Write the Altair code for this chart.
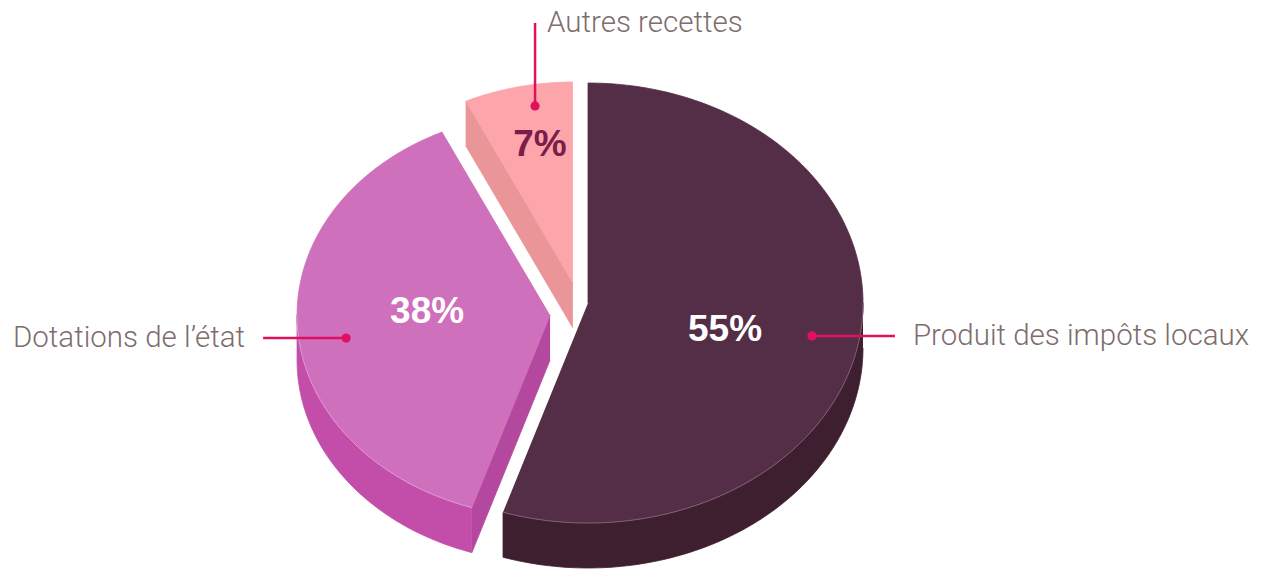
import math
import altair as alt
import pandas as pd

# ---------------- data ----------------
categories = ["Produit des impôts locaux", "Dotations de l’état", "Autres recettes"]
shares = [55, 38, 7]
pct_labels = ["55%", "38%", "7%"]

# ---------------- styles ----------------
TOP_COLOR = {"Produit des impôts locaux": "#542e46", "Dotations de l’état": "#ce70bc", "Autres recettes": "#fca5aa"}
WALL_COLOR = {"Produit des impôts locaux": "#3e1f30", "Dotations de l’état": "#c24eaa", "Autres recettes": "#ea9698"}
FACE_COLOR = {"Produit des impôts locaux": "#3e1f30", "Dotations de l’état": "#b4489e", "Autres recettes": "#ea9698"}
EDGE_COLOR = {"Produit des impôts locaux": "#8d6b7f", "Dotations de l’état": "#e3a0d8", "Autres recettes": "#fdd0d2"}
PCT_COLOR = {"Produit des impôts locaux": "#ffffff", "Dotations de l’état": "#ffffff", "Autres recettes": "#7a1d48"}
# explosion offsets (units of pie radius) and relative slice sizes (perspective look)
EXPLODE = {"Produit des impôts locaux": (0.0, 0.0), "Dotations de l’état": (-0.138, -0.044), "Autres recettes": (-0.055, 0.073)}
SCALE = {"Produit des impôts locaux": 1.0, "Dotations de l’état": 0.92, "Autres recettes": 0.913}
# label anchors: (angle shift from slice mid-angle in degrees, radius fraction)
LABEL_ANCHOR = {"Produit des impôts locaux": (4.8, 0.513), "Dotations de l’état": (5.3, 0.486), "Autres recettes": (1.8, 0.70)}
DOT_ANCHOR = {"Produit des impôts locaux": (1.4, 0.828), "Dotations de l’état": (-4.4, 0.814), "Autres recettes": (2.9, 0.894)}

W, H = 1266, 571
PX = 275.0              # pixels per pie radius
CX_PX, CY_PX = 588, 303  # where the pie centre sits in the canvas
TILT = 0.8
DEPTH = 45 / PX
CALLOUT = 83 / PX
GAP = 18 / PX
VGAP = 12 / PX
LINE_COLOR = "#e0105e"
TEXT_COLOR = "#7d6d6d"

XDOM = [-CX_PX / PX, (W - CX_PX) / PX]
YDOM = [(CY_PX - H) / PX, CY_PX / PX]


def pt(cat, a_deg, r, z):
    cx, cy = EXPLODE[cat]
    R = SCALE[cat]
    a = math.radians(a_deg)
    return (cx + r * R * math.sin(a), cy + r * R * TILT * math.cos(a) - z * DEPTH)


def arc(cat, a0, a1, z):
    n = max(2, int(abs(a1 - a0)) + 1)
    return [pt(cat, a0 + (a1 - a0) * k / (n - 1), 1, z) for k in range(n)]


# angles
total = sum(shares)
starts, ends = [], []
acc = 0.0
for s in shares:
    starts.append(acc / total * 360)
    acc += s
    ends.append(acc / total * 360)
mids = [(a + b) / 2 for a, b in zip(starts, ends)]

# painter order: farthest (back) slices first
order = sorted(range(len(categories)), key=lambda i: -math.cos(math.radians(mids[i])))

rows = []
shapes = []


def add_shape(points, color, filled=True, width=0.8):
    sid = len(shapes)
    shapes.append((sid, color, filled, width))
    for k, (x, y) in enumerate(points):
        rows.append({"shape": sid, "i": k, "x": x, "y": y})


for i in order:
    cat = categories[i]
    a0, a1 = starts[i], ends[i]
    # radial cut faces
    if -math.sin(math.radians(a0)) > 1e-6:
        add_shape([pt(cat, 0, 0, 0), pt(cat, a0, 1, 0), pt(cat, a0, 1, 1), pt(cat, 0, 0, 1)], FACE_COLOR[cat])
    if math.sin(math.radians(a1)) > 1e-6:
        add_shape([pt(cat, 0, 0, 0), pt(cat, a1, 1, 0), pt(cat, a1, 1, 1), pt(cat, 0, 0, 1)], FACE_COLOR[cat])
    # outer wall (front half)
    w0, w1 = max(a0, 90), min(a1, 270)
    if w1 > w0:
        add_shape(arc(cat, w0, w1, 0) + arc(cat, w1, w0, 1), WALL_COLOR[cat])
    # top face
    add_shape([pt(cat, 0, 0, 0)] + arc(cat, a0, a1, 0), TOP_COLOR[cat])
    if w1 > w0:
        add_shape(arc(cat, w0, w1, 0), EDGE_COLOR[cat], filled=False, width=1)

geo = pd.DataFrame(rows)

xs = alt.Scale(domain=XDOM, nice=False, zero=False)
ys = alt.Scale(domain=YDOM, nice=False, zero=False)

layers = []
for sid, color, filled, width in shapes:
    if filled:
        m = alt.Chart(geo).mark_line(filled=True, fill=color, stroke=color, strokeWidth=width, strokeJoin="round")
    else:
        m = alt.Chart(geo).mark_line(stroke=color, strokeWidth=width, opacity=0.8)
    layers.append(
        m.transform_filter(alt.datum.shape == sid).encode(
            x=alt.X("x:Q", scale=xs, axis=None),
            y=alt.Y("y:Q", scale=ys, axis=None),
            order=alt.Order("i:Q"),
        )
    )

# percentage labels
pct_rows = []
for i, cat in enumerate(categories):
    sh, r = LABEL_ANCHOR[cat]
    x, y = pt(cat, mids[i] + sh, r, 0)
    pct_rows.append({"x": x, "y": y, "t": pct_labels[i], "c": PCT_COLOR[cat]})
pct_df = pd.DataFrame(pct_rows)
layers.append(
    alt.Chart(pct_df).mark_text(font="Liberation Sans", fontWeight="bold", fontSize=37, align="center", baseline="middle").encode(
        x=alt.X("x:Q", scale=xs, axis=None),
        y=alt.Y("y:Q", scale=ys, axis=None),
        text="t:N",
        color=alt.Color("c:N", scale=None),
    )
)

# callouts
dots, lines, texts = [], [], []
for i, cat in enumerate(categories):
    m = math.radians(mids[i])
    sh, r = DOT_ANCHOR[cat]
    dx, dy = pt(cat, mids[i] + sh, r, 0)
    dots.append({"x": dx, "y": dy})
    if abs(math.sin(m)) >= abs(math.cos(m)):
        sgn = 1 if math.sin(m) > 0 else -1
        ex, ey = dx + sgn * CALLOUT, dy
        texts.append({"x": ex + sgn * GAP, "y": ey, "t": cat, "align": "left" if sgn > 0 else "right"})
    else:
        sgn = 1 if math.cos(m) > 0 else -1
        ex, ey = dx, dy + sgn * CALLOUT
        texts.append({"x": dx + VGAP, "y": ey, "t": cat, "align": "left"})
    lines.append({"x": dx, "y": dy, "x2": ex, "y2": ey})

layers.append(
    alt.Chart(pd.DataFrame(lines)).mark_rule(color=LINE_COLOR, strokeWidth=2.5).encode(
        x=alt.X("x:Q", scale=xs, axis=None), y=alt.Y("y:Q", scale=ys, axis=None), x2="x2:Q", y2="y2:Q"
    )
)
layers.append(
    alt.Chart(pd.DataFrame(dots)).mark_circle(color=LINE_COLOR, size=85, opacity=1).encode(
        x=alt.X("x:Q", scale=xs, axis=None), y=alt.Y("y:Q", scale=ys, axis=None)
    )
)
tdf = pd.DataFrame(texts)
for al in ["left", "right"]:
    layers.append(
        alt.Chart(tdf).transform_filter(alt.datum.align == al).mark_text(
            font="Roboto", fontWeight=300, fontSize=29.5, color=TEXT_COLOR, align=al, baseline="middle"
        ).encode(x=alt.X("x:Q", scale=xs, axis=None), y=alt.Y("y:Q", scale=ys, axis=None), text="t:N")
    )

chart = alt.layer(*layers).properties(
    width=W, height=H, autosize=alt.AutoSizeParams(type="none"), padding=0, background="white"
).configure_view(stroke=None)

chart.save("out.html", embed_options={"renderer": "svg", "actions": False})
